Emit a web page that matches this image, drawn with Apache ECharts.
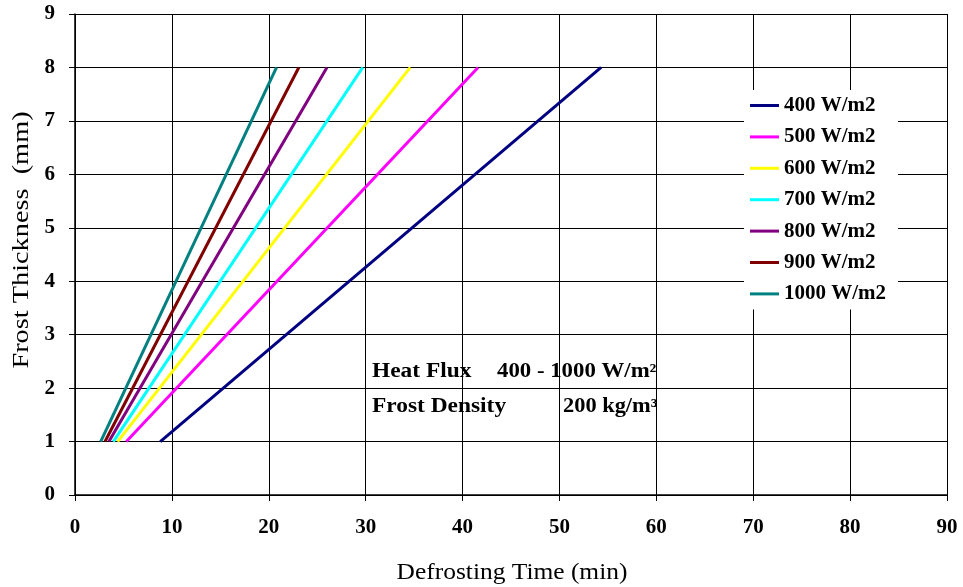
<!DOCTYPE html>
<html><head><meta charset="utf-8">
<script src="https://cdn.jsdelivr.net/npm/echarts@6/dist/echarts.min.js"></script>
<style>html,body{margin:0;padding:0;background:#fff}#c{width:963px;height:587px}</style>
</head><body><div id="c"></div>
<script>
const thickness = [1, 8];
const seriesNames = ['400 W/m2','500 W/m2','600 W/m2','700 W/m2','800 W/m2','900 W/m2','1000 W/m2'];
const t400  = [8.8, 54.3];
const t500  = [5.3, 41.6];
const t600  = [4.4, 34.6];
const t700  = [3.95, 29.7];
const t800  = [3.5, 26.0];
const t900  = [3.1, 23.1];
const t1000 = [2.65, 20.8];
const colors = ['#000080','#FF00FF','#FFFF00','#00FFFF','#800080','#800000','#008080'];
const allTimes = [t400,t500,t600,t700,t800,t900,t1000];
const xTitle = 'Defrosting Time (min)';
const yTitle = 'Frost Thickness  (mm)';
const note1a = 'Heat Flux', note1b = '400 - 1000 W/m²';
const note2a = 'Frost Density', note2b = '200 kg/m³';
const font = 'Liberation Serif';

function txt(x, y, s, opt) {
  return Object.assign({type:'text', x:x, y:y,
    style:{text:s, font:'bold 20px "Liberation Serif"', fill:'#000', align:'left', verticalAlign:'middle',
           textAlign:'left', textVerticalAlign:'middle'}}, opt || {});
}

const chart = echarts.init(document.getElementById('c'));
chart.setOption({
  animation:false,
  backgroundColor:'#fff',
  grid:{left:75,right:16,top:14,bottom:92},
  xAxis:{type:'value',min:0,max:90,interval:10,
    axisLine:{lineStyle:{color:'#000',width:1.5}},
    axisTick:{show:true,length:6,lineStyle:{color:'#000'}},
    axisLabel:{fontFamily:font,fontWeight:'bold',fontSize:21,color:'#000',margin:22},
    splitLine:{show:true,lineStyle:{color:'#000',width:1}}},
  yAxis:{type:'value',min:0,max:9,interval:1,
    axisLine:{show:true,lineStyle:{color:'#000',width:1.5}},
    axisTick:{show:true,length:6,lineStyle:{color:'#000'}},
    axisLabel:{fontFamily:font,fontWeight:'bold',fontSize:21,color:'#000',margin:20},
    splitLine:{show:true,lineStyle:{color:'#000',width:1}}},
  legend:{orient:'vertical',left:744,top:90,itemWidth:29,itemHeight:3,itemGap:10.4,
    backgroundColor:'#fff',padding:[5,12,5,6],
    textStyle:{fontFamily:font,fontWeight:'bold',fontSize:21,color:'#000'},
    icon:'rect',data:seriesNames},
  series: seriesNames.map((n,i)=>({name:n,type:'line',showSymbol:false,symbol:'none',
    lineStyle:{color:colors[i],width:3},itemStyle:{color:colors[i]},
    data: allTimes[i].map((t,j)=>[t,thickness[j]])})),
  graphic:[
    txt(372, 372, note1a, {scaleX:1.17}),
    txt(497, 372, note1b, {scaleX:1.14}),
    txt(372, 407, note2a, {scaleX:1.17}),
    txt(563, 407, note2b, {scaleX:1.12}),
    {type:'text', x:512, y:573, style:{text:xTitle, font:'24px "Liberation Serif"', fill:'#000',
      align:'center', verticalAlign:'middle', textAlign:'center', textVerticalAlign:'middle'}, scaleX:1.06},
    {type:'text', x:22, y:240, rotation:Math.PI/2, style:{text:yTitle, font:'24px "Liberation Serif"', fill:'#000',
      align:'center', verticalAlign:'middle', textAlign:'center', textVerticalAlign:'middle'}, scaleX:1.18}
  ]
});
</script></body></html>
